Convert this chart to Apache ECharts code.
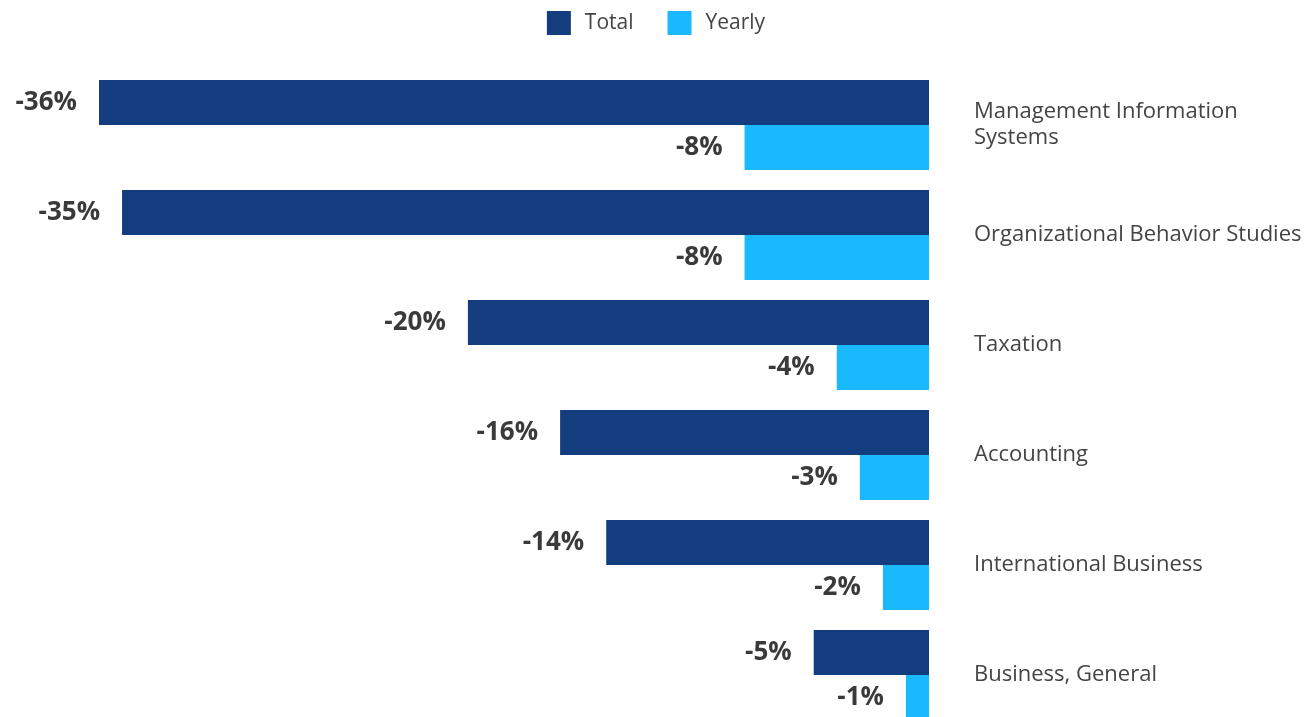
<!DOCTYPE html>
<html>
<head>
<meta charset="utf-8">
<script src="https://cdn.jsdelivr.net/npm/echarts@6/dist/echarts.min.js"></script>
<style>
    html, body { margin: 0; padding: 0; background: #fff; }
    #chart { width: 1312px; height: 717px; }
</style>
</head>
<body>
<div id="chart"></div>
<script>
// categories top to bottom
const categories = [
    'Management Information\nSystems',
    'Organizational Behavior Studies',
    'Taxation',
    'Accounting',
    'International Business',
    'Business, General'
]
const totalValues = [-36, -35, -20, -16, -14, -5]
const yearlyValues = [-8, -8, -4, -3, -2, -1]

const labelStyle = {
    show: true,
    position: 'left',
    distance: 22,
    color: '#3a3a3a',
    fontSize: 26,
    fontWeight: 'bold',
    fontFamily: 'Open Sans',
    formatter: (p) => p.value + '%',
}

let myChart = echarts.init(document.getElementById('chart'))
let option = {
    color: ['#133d7e', '#1ab8fd'],
    textStyle: { fontFamily: 'Open Sans' },
    legend: {
        top: 11,
        left: 'center',
        itemWidth: 24,
        itemHeight: 24,
        itemGap: 34,
        icon: 'rect',
        padding: 0,
        textStyle: {
            fontSize: 21,
            color: '#444',
            fontFamily: 'Open Sans',
            padding: [0, 0, 0, 9],
        },
        data: ['Total', 'Yearly'],
    },
    grid: {
        left: 99,
        right: 383,
        top: 70,
        bottom: -13,
        outerBoundsMode: 'none',
    },
    xAxis: {
        type: 'value',
        min: -36,
        max: 0,
        show: false,
    },
    yAxis: {
        type: 'category',
        position: 'right',
        inverse: true,
        data: categories,
        axisLine: { show: false },
        axisTick: { show: false },
        axisLabel: {
            margin: 45,
            fontSize: 22,
            lineHeight: 26,
            color: '#444',
            fontFamily: 'Open Sans',
        },
    },
    series: [
        {
            type: 'bar',
            name: 'Total',
            barWidth: 45,
            barGap: 0,
            data: totalValues,
            label: labelStyle,
        },
        {
            type: 'bar',
            name: 'Yearly',
            barWidth: 45,
            barGap: 0,
            data: yearlyValues,
            label: labelStyle,
        },
    ],
}
myChart.setOption(option)
</script>
</body>
</html>
